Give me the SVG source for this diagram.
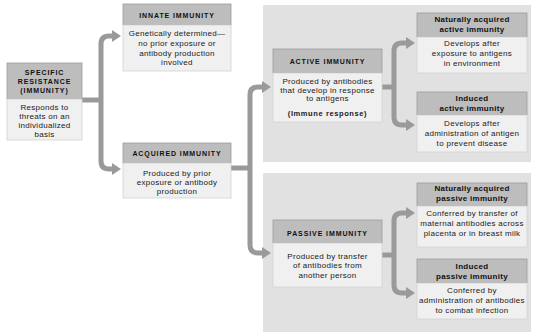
<svg xmlns="http://www.w3.org/2000/svg" width="533" height="333" viewBox="0 0 533 333">
<defs>
<marker id="ah" markerUnits="userSpaceOnUse" markerWidth="10" markerHeight="12" refX="1" refY="6" orient="auto">
<path d="M0,0 L9,6 L0,12 Z" fill="#9a9a9a"/>
</marker>
<style>
.panel{fill:#e1e1e1}
.hd{fill:#bdbdbd;stroke:#9c9c9c;stroke-width:0.8}
.bd{fill:#f0f0f0;stroke:#d2d2d2;stroke-width:0.8}
.ht{font-family:"Liberation Sans",Arial,sans-serif;font-weight:bold;font-size:7px;letter-spacing:0.9px;fill:#111;text-anchor:middle}
.hm{font-family:"Liberation Sans",Arial,sans-serif;font-weight:bold;font-size:8px;letter-spacing:0.3px;fill:#111;text-anchor:middle}
.bt{font-family:"Liberation Sans",Arial,sans-serif;font-size:8px;letter-spacing:0.3px;fill:#1a1a1a;text-anchor:middle}
.btb{font-family:"Liberation Sans",Arial,sans-serif;font-weight:bold;font-size:7.5px;letter-spacing:0.6px;fill:#1a1a1a;text-anchor:middle}
.cn{fill:none;stroke:#9a9a9a;stroke-width:5}
</style>
</defs>
<rect width="533" height="333" fill="#ffffff"/>
<rect class="panel" x="263" y="5" width="268" height="157"/>
<rect class="panel" x="263" y="173" width="268" height="159"/>

<g id="connectors">
<path class="cn" d="M82,100 H101"/>
<path class="cn" d="M101,100 V44 Q101,36 109,36 H113" marker-end="url(#ah)"/>
<path class="cn" d="M101,100 V161 Q101,169 109,169 H113" marker-end="url(#ah)"/>
<path class="cn" d="M231,168 H250"/>
<path class="cn" d="M250,168 V95 Q250,87 258,87 H263" marker-end="url(#ah)"/>
<path class="cn" d="M250,168 V245 Q250,253 258,253 H263" marker-end="url(#ah)"/>
<path class="cn" d="M382,87 H394"/>
<path class="cn" d="M394,87 V51 Q394,43 402,43 H407" marker-end="url(#ah)"/>
<path class="cn" d="M394,87 V117 Q394,125 402,125 H407" marker-end="url(#ah)"/>
<path class="cn" d="M382,255 H394"/>
<path class="cn" d="M394,255 V221 Q394,213 402,213 H407" marker-end="url(#ah)"/>
<path class="cn" d="M394,255 V285 Q394,293 402,293 H407" marker-end="url(#ah)"/>
</g>

<g id="specific">
<rect class="hd" x="7" y="63" width="75" height="36"/>
<rect class="bd" x="7" y="99" width="75" height="41"/>
<text class="ht" x="44.5" y="74.5">SPECIFIC</text>
<text class="ht" x="44.5" y="83.5">RESISTANCE</text>
<text class="ht" x="44.5" y="92.5">(IMMUNITY)</text>
<text class="bt" x="44.5" y="110">Responds to</text>
<text class="bt" x="44.5" y="119">threats on an</text>
<text class="bt" x="44.5" y="128">individualized</text>
<text class="bt" x="44.5" y="137" font-size="7">basis</text>
</g>

<g id="innate">
<rect class="hd" x="123" y="4" width="108" height="21"/>
<rect class="bd" x="123" y="25" width="108" height="46"/>
<text class="ht" x="177" y="17.5">INNATE IMMUNITY</text>
<text class="bt" x="177" y="36">Genetically determined—</text>
<text class="bt" x="177" y="46">no prior exposure or</text>
<text class="bt" x="177" y="55.5">antibody production</text>
<text class="bt" x="177" y="65">involved</text>
</g>

<g id="acquired">
<rect class="hd" x="123" y="143" width="108" height="20"/>
<rect class="bd" x="123" y="163" width="108" height="35"/>
<text class="ht" x="177" y="156">ACQUIRED IMMUNITY</text>
<text class="bt" x="177" y="175.5">Produced by prior</text>
<text class="bt" x="177" y="184.5">exposure or antibody</text>
<text class="bt" x="177" y="193.5">production</text>
</g>

<g id="active">
<rect class="hd" x="273" y="49" width="109" height="24"/>
<rect class="bd" x="273" y="73" width="109" height="49"/>
<text class="ht" x="327.5" y="63.5">ACTIVE IMMUNITY</text>
<text class="bt" x="327.5" y="83.5">Produced by antibodies</text>
<text class="bt" x="327.5" y="92.5">that develop in response</text>
<text class="bt" x="327.5" y="101">to antigens</text>
<text class="btb" x="327.5" y="115.5">(Immune response)</text>
</g>

<g id="nat-active">
<rect class="hd" x="417" y="13" width="110" height="24"/>
<rect class="bd" x="417" y="37" width="110" height="36"/>
<text class="hm" x="472" y="22">Naturally acquired</text>
<text class="hm" x="472" y="32">active immunity</text>
<text class="bt" x="472" y="46">Develops after</text>
<text class="bt" x="472" y="56">exposure to antigens</text>
<text class="bt" x="472" y="66">in environment</text>
</g>

<g id="ind-active">
<rect class="hd" x="417" y="92" width="110" height="23"/>
<rect class="bd" x="417" y="115" width="110" height="37"/>
<text class="hm" x="472" y="101">Induced</text>
<text class="hm" x="472" y="111">active immunity</text>
<text class="bt" x="472" y="126">Develops after</text>
<text class="bt" x="472" y="136">administration of antigen</text>
<text class="bt" x="472" y="146">to prevent disease</text>
</g>

<g id="passive">
<rect class="hd" x="273" y="220" width="109" height="23"/>
<rect class="bd" x="273" y="243" width="109" height="44"/>
<text class="ht" x="327.5" y="235.5">PASSIVE IMMUNITY</text>
<text class="bt" x="327.5" y="258.5">Produced by transfer</text>
<text class="bt" x="327.5" y="268">of antibodies from</text>
<text class="bt" x="327.5" y="277.5">another person</text>
</g>

<g id="nat-passive">
<rect class="hd" x="417" y="183" width="110" height="23"/>
<rect class="bd" x="417" y="206" width="110" height="41"/>
<text class="hm" x="472" y="191">Naturally acquired</text>
<text class="hm" x="472" y="201">passive immunity</text>
<text class="bt" x="472" y="215.5">Conferred by transfer of</text>
<text class="bt" x="472" y="225.5" letter-spacing="0.1">maternal antibodies across</text>
<text class="bt" x="472" y="235.5">placenta or in breast milk</text>
</g>

<g id="ind-passive">
<rect class="hd" x="417" y="259" width="110" height="24"/>
<rect class="bd" x="417" y="283" width="110" height="36"/>
<text class="hm" x="472" y="268.5">Induced</text>
<text class="hm" x="472" y="278.5">passive immunity</text>
<text class="bt" x="472" y="292.5">Conferred by</text>
<text class="bt" x="472" y="302.5" letter-spacing="0.1">administration of antibodies</text>
<text class="bt" x="472" y="312.5">to combat infection</text>
</g>
</svg>
